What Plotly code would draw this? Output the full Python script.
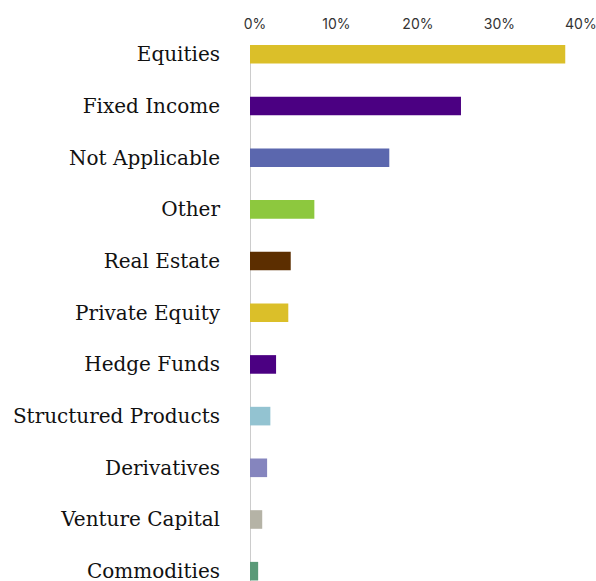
import plotly.graph_objects as go

categories = ["Equities", "Fixed Income", "Not Applicable", "Other", "Real Estate",
              "Private Equity", "Hedge Funds", "Structured Products", "Derivatives",
              "Venture Capital", "Commodities"]
shares = [38.7, 25.9, 17.1, 7.9, 5.0, 4.7, 3.2, 2.5, 2.1, 1.5, 1.0]
colors = ["#DBBF29", "#4B0082", "#5B67AE", "#8DC83E", "#5C2E00", "#DBBF29",
          "#4B0082", "#93C3D1", "#8585BE", "#B5B3A6", "#5A9A78"]
tick_vals = [0, 10, 20, 30, 40]
tick_text = ["0%", "10%", "20%", "30%", "40%"]

fig = go.Figure(go.Bar(
    x=shares, y=categories, orientation="h",
    marker=dict(color=colors, line=dict(width=0)),
    width=0.36,
))

fig.update_layout(
    width=596, height=581,
    margin=dict(l=250, r=20, t=45, b=0),
    paper_bgcolor="white", plot_bgcolor="white",
    showlegend=False,
)
fig.update_xaxes(
    range=[0, 40.02], side="top", tickvals=tick_vals, ticktext=tick_text,
    showgrid=False, zeroline=False, showline=False,
    tickfont=dict(family="Inter", size=14, color="#333"),
    ticklabelshift=5, ticklabelstandoff=12, ticks="",
    ticklabeloverflow="allow",
    automargin=False,
)
fig.update_yaxes(
    range=[10.19, -0.18], showgrid=False, zeroline=False, showline=False,
    tickfont=dict(family="DejaVu Serif", size=20, color="#111"),
    ticks="", ticklabelstandoff=29, automargin=False,
)
fig.add_shape(type="line", xref="x", yref="paper", x0=0, x1=0, y0=0, y1=1,
              line=dict(color="#cccccc", width=2), layer="below")

fig.write_html(
    "out.html",
    config={"displayModeBar": False},
    post_script="document.body.style.margin='0';document.body.style.overflow='hidden';",
)
